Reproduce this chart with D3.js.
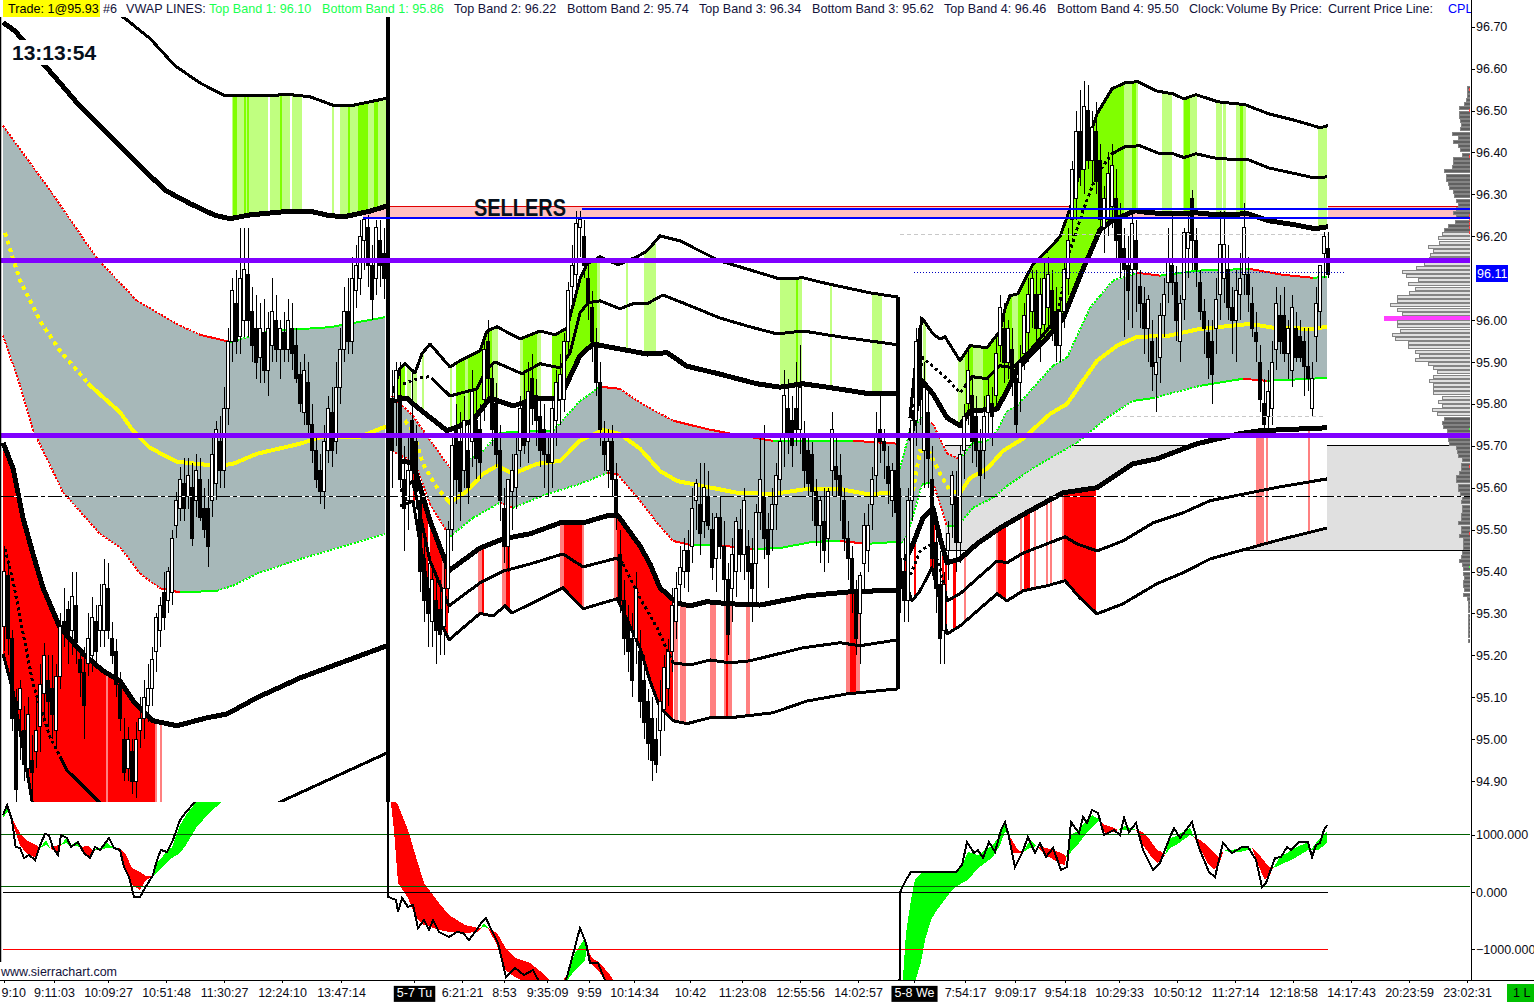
<!DOCTYPE html>
<html>
<head>
<meta charset="utf-8">
<script src="https://cdnjs.cloudflare.com/ajax/libs/d3/7.8.5/d3.min.js"></script>
<style>
html, body { margin: 0; padding: 0; background: #fff; overflow: hidden; }
svg { display: block; font-family: "Liberation Sans", Arial, sans-serif; }
.axis text { font-size: 12.5px; fill: #0a0a14; font-family: "Liberation Sans", Arial, sans-serif; }
.axis path, .axis line { stroke: #000; shape-rendering: crispEdges; }
</style>
</head>
<body>
<div id="chart"></div>
<script>
const width = 1534, height = 1002;

// header study labels
const headerLabels = [
  ["Trade: 1@95.93", 8, "#000"], ["#6", 103, "#12123a"], ["VWAP LINES:", 126, "#12123a"],
  ["Top Band 1: 96.10", 209, "#19ff50"], ["Bottom Band 1: 95.86", 322, "#19ff50"],
  ["Top Band 2: 96.22", 454, "#12123a"], ["Bottom Band 2: 95.74", 567, "#12123a"],
  ["Top Band 3: 96.34", 699, "#12123a"], ["Bottom Band 3: 95.62", 812, "#12123a"],
  ["Top Band 4: 96.46", 944, "#12123a"], ["Bottom Band 4: 95.50", 1057, "#12123a"],
  ["Clock:", 1189, "#12123a"], ["Volume By Price:", 1226, "#12123a"],
  ["Current Price Line:", 1328, "#12123a"], ["CPL:", 1448, "#0000ff"]
];

const priceTicks = [96.70, 96.60, 96.50, 96.40, 96.30, 96.20, 96.00, 95.90, 95.80, 95.70, 95.60, 95.50, 95.40, 95.30, 95.20, 95.10, 95.00, 94.90];
const studyTicks = [1000, 0, -1000];
const timeBars = [1, 13.5, 27, 41.5, 56, 70.5, 85.25, 103.5, 115.5, 126, 136.75, 147.25, 158.5, 172.5, 185.5, 200, 214.5, 228.5, 241.25, 253.75, 266.25, 279.75, 294.25, 308.75, 323.25, 337.75, 352.25, 366.75];
const timeLabels = ["9:10", "9:11:03", "10:09:27", "10:51:48", "11:30:27", "12:24:10", "13:47:14", "5-7 Tu", "6:21:21", "8:53", "9:35:09", "9:59", "10:14:34", "10:42", "11:23:08", "12:55:56", "14:02:57", "5-8 We", "7:54:17", "9:09:17", "9:54:18", "10:29:33", "10:50:12", "11:27:14", "12:18:58", "14:17:43", "20:23:59", "23:02:31"];
const dateLabels = ["5-7 Tu", "5-8 We"];

// candles, open high low close in hundredths
const candles1Start = 1;
const candles1 = [
[9527,9546,9521,9540],[9539,9542,9520,9524],[9524,9526,9502,9505],[9509,9512,9485,9488],[9507,9514,9495,9512],[9502,9508,9490,9494],[9493,9510,9490,9506],[9495,9501,9485,9492],
[9497,9510,9493,9502],[9503,9518,9497,9513],[9511,9523,9505,9520],[9514,9520,9503,9509],[9512,9520,9500,9506],[9502,9518,9498,9515],[9515,9530,9512,9527],[9528,9536,9522,9526],
[9531,9533,9518,9524],[9526,9540,9520,9534],[9532,9540,9518,9523],[9519,9522,9510,9516],[9516,9522,9500,9508],[9518,9530,9515,9524],[9520,9534,9516,9529],[9528,9532,9518,9521],
[9526,9537,9522,9532],[9526,9543,9522,9537],[9536,9542,9524,9526],[9524,9528,9518,9520],[9521,9524,9510,9513],[9513,9516,9502,9505],[9500,9505,9490,9492],[9493,9503,9490,9500],
[9497,9500,9487,9490],[9490,9504,9486,9500],[9502,9510,9498,9505],[9505,9514,9500,9510],[9508,9518,9504,9512],[9512,9522,9508,9519],[9521,9530,9516,9529],[9526,9534,9522,9532],
[9535,9540,9526,9529],[9533,9541,9530,9540],[9535,9550,9532,9548],[9551,9559,9548,9557],[9555,9565,9552,9562],[9561,9567,9552,9555],[9558,9567,9555,9563],[9560,9566,9546,9548],
[9557,9568,9553,9564],[9562,9567,9552,9553],[9555,9560,9548,9550],[9555,9562,9541,9546],[9557,9572,9553,9568],[9561,9576,9557,9574],[9571,9577,9560,9564],[9564,9584,9560,9579],
[9579,9598,9575,9595],[9595,9610,9590,9607],[9604,9612,9592,9595],[9596,9622,9592,9610],[9600,9622,9596,9612],[9611,9622,9596,9600],[9602,9608,9590,9594],[9598,9606,9586,9590],
[9591,9604,9585,9598],[9597,9605,9585,9588],[9588,9602,9582,9598],[9594,9610,9590,9602],[9600,9606,9590,9593],[9593,9600,9586,9598],[9597,9602,9590,9593],[9593,9605,9590,9600],
[9598,9604,9588,9592],[9594,9598,9585,9586],[9587,9590,9578,9580],[9578,9592,9575,9588],[9585,9590,9572,9575],[9575,9580,9566,9569],[9569,9572,9560,9562],[9564,9568,9556,9559],
[9559,9575,9555,9571],[9569,9582,9566,9579],[9578,9584,9565,9569],[9571,9590,9568,9584],[9584,9598,9580,9593],[9593,9608,9590,9602],[9602,9610,9592,9595],[9595,9615,9592,9610],
[9607,9618,9603,9613],[9610,9624,9606,9620],[9619,9624,9612,9624],[9622,9625,9608,9613],[9613,9618,9600,9605],[9610,9624,9606,9622],[9619,9624,9608,9613],[9616,9622,9605,9610]
];
const candles2Start = 98;
const candles2 = [
[9581,9588,9560,9569],[9581,9590,9570,9588],[9582,9590,9560,9562],[9562,9570,9545,9555],[9557,9572,9550,9564],[9576,9588,9560,9564],[9571,9575,9555,9559],[9557,9560,9535,9540],
[9543,9548,9528,9533],[9536,9542,9522,9530],[9528,9542,9522,9538],[9533,9540,9518,9526],[9531,9538,9520,9525],[9527,9542,9520,9536],[9536,9552,9530,9550],[9550,9572,9545,9570],
[9574,9580,9556,9562],[9571,9578,9552,9559],[9564,9582,9560,9576],[9569,9576,9556,9560],[9571,9588,9565,9583],[9576,9584,9562,9567],[9574,9580,9562,9566],[9581,9596,9576,9593],
[9595,9600,9582,9586],[9586,9590,9570,9574],[9580,9585,9565,9568],[9569,9575,9552,9557],[9555,9560,9542,9546],[9546,9562,9540,9562],[9559,9568,9550,9564],[9560,9572,9555,9568],
[9569,9582,9565,9579],[9580,9588,9568,9570],[9571,9590,9566,9583],[9586,9592,9575,9579],[9582,9586,9570,9576],[9577,9582,9565,9569],[9574,9580,9560,9568],[9568,9572,9558,9566],
[9566,9582,9560,9579],[9576,9588,9570,9585],[9581,9592,9575,9587],[9581,9597,9578,9595],[9595,9609,9592,9607],[9608,9618,9604,9613],[9611,9626,9608,9623],[9622,9626,9615,9624],
[9620,9624,9610,9613],[9610,9614,9600,9604],[9603,9607,9590,9595],[9594,9598,9582,9585],[9585,9590,9570,9574],[9571,9576,9564,9568],[9564,9574,9560,9571],[9571,9575,9558,9562],
[9562,9566,9550,9553],[9544,9550,9530,9533],[9533,9538,9520,9524],[9528,9532,9516,9521],[9524,9530,9510,9514],[9524,9540,9518,9536],[9521,9526,9505,9509],[9514,9520,9500,9504],
[9509,9512,9495,9499],[9505,9510,9490,9495],[9500,9505,9492,9494],[9502,9514,9496,9509],[9507,9520,9502,9517],[9512,9524,9508,9521],[9521,9536,9516,9532],[9528,9540,9524,9536],
[9537,9546,9532,9541],[9540,9548,9536,9545],[9545,9550,9535,9540],[9546,9560,9542,9555],[9557,9562,9550,9561],[9556,9566,9544,9549],[9552,9566,9548,9560],[9558,9564,9550,9551],
[9550,9554,9538,9541],[9543,9554,9535,9553],[9553,9558,9543,9546],[9546,9552,9532,9538],[9538,9542,9520,9525],[9536,9548,9528,9544],[9540,9553,9534,9552],[9550,9555,9540,9544],
[9544,9560,9538,9557],[9546,9550,9532,9540],[9542,9548,9528,9536],[9542,9556,9532,9554],[9554,9572,9550,9562],[9558,9575,9543,9548],[9550,9554,9536,9544],[9550,9560,9545,9556],
[9556,9566,9550,9563],[9562,9572,9558,9571],[9572,9588,9565,9582],[9579,9586,9568,9573],[9576,9582,9565,9570],[9579,9590,9570,9574],[9574,9594,9568,9584],[9572,9576,9560,9564],
[9569,9572,9558,9561],[9568,9571,9552,9559],[9559,9562,9546,9551],[9551,9558,9542,9557],[9552,9560,9540,9545],[9548,9560,9542,9559],[9564,9578,9558,9574],[9565,9572,9558,9562],
[9563,9568,9552,9558],[9557,9560,9545,9548],[9548,9552,9538,9543],[9543,9546,9530,9536],[9535,9538,9520,9524],[9530,9540,9518,9539],[9542,9554,9535,9551],[9545,9556,9540,9551],
[9556,9565,9550,9562],[9563,9578,9558,9573],[9574,9582,9566,9571],[9571,9574,9562,9569],[9565,9570,9556,9561],[9557,9566,9553,9564],[9564,9568,9550,9554]
];
const candles3Start = 225;
const candles3 = [
[9543,9560,9530,9536],[9540,9548,9528,9533],[9533,9560,9528,9557],[9557,9578,9552,9576],[9576,9598,9570,9595],[9598,9601,9575,9581],[9569,9590,9560,9584],[9578,9584,9560,9567],
[9562,9570,9540,9543],[9547,9552,9530,9536],[9537,9545,9518,9524],[9526,9540,9518,9537],[9545,9552,9538,9549],[9556,9564,9548,9563],[9558,9564,9540,9547],[9547,9570,9542,9568],
[9569,9580,9562,9577],[9580,9594,9575,9588],[9582,9586,9566,9571],[9577,9582,9565,9569],[9569,9574,9558,9563],[9569,9582,9562,9577],[9578,9586,9572,9582],[9580,9584,9570,9577],
[9582,9596,9578,9592],[9594,9606,9590,9603],[9598,9604,9585,9590],[9590,9600,9586,9598],[9593,9598,9582,9585],[9586,9590,9572,9575],[9585,9594,9578,9590],[9592,9604,9588,9601],
[9597,9610,9590,9606],[9602,9612,9598,9610],[9606,9612,9595,9598],[9598,9610,9590,9606],[9599,9614,9595,9610],[9603,9615,9598,9611],[9607,9612,9595,9598],[9602,9608,9590,9594],
[9594,9605,9590,9602],[9602,9614,9598,9612],[9610,9622,9606,9619],[9624,9638,9620,9636],[9629,9650,9624,9645],[9645,9655,9632,9636],[9636,9657,9630,9651],[9650,9656,9636,9638],
[9638,9650,9632,9646],[9645,9652,9630,9633],[9638,9642,9622,9624],[9622,9632,9616,9629],[9624,9640,9620,9635],[9627,9642,9622,9637],[9629,9636,9614,9619],[9624,9628,9610,9614],
[9617,9622,9596,9612],[9613,9620,9600,9607],[9612,9625,9598,9623],[9619,9624,9602,9612],[9608,9612,9598,9604],[9604,9608,9592,9598],[9598,9606,9590,9605],[9595,9600,9583,9589],
[9587,9596,9578,9590],[9591,9604,9585,9601],[9601,9610,9596,9606],[9609,9622,9604,9614],[9613,9625,9606,9609],[9609,9613,9595,9600],[9595,9606,9590,9604],[9605,9622,9600,9621],
[9617,9625,9610,9621],[9629,9631,9612,9619],[9619,9622,9608,9612],[9609,9612,9600,9602],[9602,9605,9592,9598],[9597,9600,9586,9591],[9595,9600,9580,9587],[9598,9610,9592,9605],
[9606,9626,9600,9618],[9610,9626,9604,9618],[9612,9618,9600,9603],[9603,9608,9592,9600],[9600,9612,9590,9607],[9606,9616,9600,9610],[9611,9628,9606,9622],[9611,9615,9602,9606],
[9604,9608,9596,9598],[9597,9602,9590,9595],[9590,9594,9578,9581],[9580,9586,9574,9575],[9577,9588,9573,9583],[9579,9595,9575,9590],[9593,9608,9588,9604],[9601,9606,9592,9595],
[9601,9608,9590,9592],[9592,9600,9586,9598],[9588,9606,9584,9603],[9598,9602,9590,9591],[9596,9600,9590,9591],[9595,9598,9582,9589],[9589,9598,9583,9586],[9579,9590,9577,9586],
[9596,9608,9590,9604],[9602,9612,9598,9613],[9616,9621,9610,9620],[9617,9621,9610,9611]
];

// VWAP band lines, [bar, price]
const topBand1 = [[.75,96.90],[31.25,96.72],[37.5,96.672],[43.75,96.607],[50,96.566],[56.25,96.535],[62.5,96.535],[72.5,96.538],[77.5,96.533],[83.75,96.511],[87.5,96.511],[97,96.53]];
const upThick1 = [[.75,96.71],[3.75,96.69],[11.25,96.607],[15,96.566],[20,96.51],[27.5,96.44],[35,96.368],[41.25,96.31],[47.5,96.278],[53.75,96.25],[57.5,96.242],[62.5,96.251],[72.5,96.26],[77.5,96.26],[82.5,96.249],[86.25,96.247],[92.5,96.26],[97,96.273]];
const upper1 = [[.75,96.464],[12.5,96.31],[24.25,96.147],[34.25,96.046],[45,95.987],[50,95.965],[57.5,95.948],[67.5,95.974],[82.5,95.983],[96.25,96.007]];
const lower1 = [[.75,95.963],[5,95.845],[8.25,95.738],[15.75,95.589],[25,95.49],[30,95.458],[35,95.395],[40,95.36],[45,95.35],[54.25,95.354],[58.25,95.366],[64.25,95.395],[75,95.43],[96.25,95.49]];
const vwap1 = [[1.25,96.208],[5,96.094],[10,95.998],[15,95.927],[22.5,95.844],[30,95.78],[33.25,95.736],[37.5,95.695],[44.25,95.662],[54.25,95.652],[58.25,95.657],[64.25,95.681],[75,95.705],[80,95.72],[90,95.722],[96.5,95.746]];
const downThick1 = [[.75,95.707],[3.25,95.647],[5.75,95.528],[8.25,95.442],[10.75,95.361],[15,95.266],[20.75,95.204],[25.75,95.163],[30,95.139],[33.25,95.092],[38.25,95.044],[44.25,95.032],[51.75,95.051],[56.75,95.06],[64.25,95.099],[75,95.146],[96.75,95.223]];
const downMid1 = [[1.25,95.454],[3.25,95.378],[5.5,95.266],[8.25,95.132],[12.5,95.005],[16.75,94.926],[24.25,94.855],[38.75,94.72],[44.25,94.71],[56.75,94.74],[70,94.85],[96.75,94.967]];
const downLow1 = [[.75,95.204],[3.25,95.115],[5,95.02],[8,94.853],[12.5,94.66],[38.75,94.40],[96.75,94.71]];

const topBand2 = [[98.25,95.826],[100,95.884],[101.25,95.896],[103.75,95.874],[105.5,95.92],[107.5,95.943],[112.5,95.888],[115,95.903],[120,95.927],[121.75,95.974],[124.25,95.984],[130,95.955],[135,95.974],[138.75,95.965],[141.75,95.981],[145,96.098],[146.75,96.134],[150,96.151],[154.5,96.132],[159.25,96.151],[161.75,96.165],[165,96.201],[170,96.189],[180,96.141],[186.75,96.122],[195,96.098],[200.75,96.101],[206.75,96.087],[217.5,96.065],[224.5,96.055]];
const upMid2 = [[100.75,95.848],[105,95.862],[107.5,95.865],[112.5,95.819],[119.25,95.836],[121.75,95.884],[123.75,95.90],[130.5,95.872],[135,95.896],[140,95.886],[142.5,95.922],[145,96.017],[147,96.041],[150,96.046],[155,96.027],[158.25,96.039],[161.75,96.039],[165.75,96.06],[170.75,96.041],[180,96.005],[186.75,95.986],[194.25,95.967],[200.75,95.974],[210,95.96],[224.5,95.941]];
const upThick2 = [[97.5,95.807],[101.75,95.814],[103.25,95.80],[111.75,95.736],[118.25,95.76],[122.5,95.814],[128.25,95.795],[134.25,95.814],[140,95.814],[145,95.915],[148.25,95.943],[155,95.931],[161.75,95.919],[166.75,95.922],[171.75,95.89],[180,95.871],[189.25,95.848],[195,95.84],[200.75,95.848],[206.75,95.84],[217.5,95.824],[224.5,95.824]];
const upper2 = [[98,95.819],[103.25,95.771],[112.5,95.647],[120,95.681],[125,95.731],[135,95.736],[138.25,95.736],[145,95.807],[150,95.841],[155,95.836],[160,95.803],[168.25,95.76],[176.75,95.74],[184.25,95.726],[193.25,95.712],[213.25,95.712],[224.5,95.705]];
const lower2 = [[98,95.688],[103.75,95.659],[107.5,95.561],[112.5,95.483],[118.25,95.528],[125,95.564],[128.25,95.552],[136.75,95.585],[145,95.609],[151.75,95.635],[154.25,95.633],[160,95.569],[164.25,95.516],[168.25,95.473],[172.5,95.464],[178.25,95.464],[188.25,95.454],[195,95.456],[203.25,95.471],[210,95.473],[216.75,95.466],[224.5,95.471]];
const vwap2 = [[101.25,95.76],[103.25,95.736],[105.75,95.657],[109.25,95.60],[112.5,95.564],[116.75,95.592],[120.75,95.633],[124.25,95.652],[128.25,95.633],[134.25,95.657],[140,95.664],[145,95.712],[150.75,95.738],[155,95.728],[160,95.693],[165,95.64],[169.25,95.616],[176.75,95.602],[184.25,95.588],[193.25,95.585],[201.75,95.597],[210,95.597],[216.75,95.585],[224.5,95.588]];
const downThick2 = [[100,95.664],[103.25,95.659],[107.5,95.521],[112.25,95.402],[120,95.456],[125.75,95.478],[132.5,95.49],[140,95.516],[145.75,95.516],[151.75,95.533],[154.5,95.533],[160,95.461],[162.5,95.418],[165,95.361],[169.25,95.325],[172.5,95.318],[176.75,95.328],[182.5,95.323],[190,95.32],[201.75,95.342],[211.75,95.351],[224.5,95.356]];
const downMid2 = [[100,95.592],[103.25,95.616],[107.5,95.425],[112.25,95.318],[120,95.373],[125.75,95.401],[132.5,95.418],[140.75,95.442],[145.75,95.411],[154.25,95.432],[155.75,95.418],[160,95.337],[164.25,95.266],[168.25,95.182],[172.5,95.177],[177.5,95.189],[182.5,95.182],[187.5,95.187],[200.75,95.218],[210,95.23],[215,95.223],[224.5,95.237]];
const downLow2 = [[100,95.556],[103.25,95.568],[107.5,95.33],[112.25,95.237],[120,95.30],[123.25,95.294],[126.25,95.318],[128,95.301],[140.75,95.361],[145.75,95.311],[154.25,95.335],[155.75,95.306],[160,95.218],[162.5,95.139],[165,95.075],[168.25,95.044],[171.75,95.037],[177.5,95.051],[182.5,95.051],[193.25,95.063],[201.75,95.091],[211.75,95.108],[224.5,95.12]];

const topBand3 = [[227.5,95.767],[228.75,95.886],[230.5,96.005],[233.25,95.967],[235,95.955],[236.25,95.96],[240,95.903],[242.5,95.939],[246.75,95.934],[250,95.974],[251.25,96.027],[252.5,96.058],[254.5,96.063],[258.25,96.134],[261.75,96.165],[265,96.199],[267.5,96.266],[271.25,96.404],[274.25,96.492],[278,96.552],[281.25,96.566],[284.5,96.569],[289,96.547],[293.25,96.54],[296,96.528],[299,96.538],[304.5,96.521],[311.25,96.514],[317.25,96.492],[324,96.476],[330,96.459],[332,96.464]];
const upMid3 = [[227.5,95.736],[230.75,95.91],[236.75,95.86],[240,95.826],[243,95.865],[246.75,95.86],[250,95.891],[253.25,95.886],[257.5,95.927],[264.25,96.005],[267.5,96.165],[270.75,96.261],[274.25,96.349],[278,96.397],[281.25,96.414],[285,96.416],[290,96.397],[293.25,96.397],[296,96.388],[299,96.397],[304.5,96.385],[312,96.383],[317.25,96.363],[324,96.349],[328.75,96.339],[331.75,96.342]];
const upThick3 = [[227.5,95.712],[230.5,95.855],[233.25,95.824],[236.75,95.767],[240,95.748],[242.5,95.783],[249.25,95.788],[251.75,95.831],[254.5,95.886],[261.75,95.958],[265.75,96.003],[270,96.105],[275,96.215],[278,96.237],[283.75,96.261],[287.5,96.256],[293.25,96.254],[299,96.256],[304.5,96.251],[312,96.254],[317.25,96.237],[324,96.227],[328.75,96.218],[332,96.223]];
const upper3 = [[225,95.646],[227.5,95.736],[230.5,95.767],[233.25,95.752],[236.75,95.681],[240,95.669],[243.25,95.707],[246.75,95.712],[249.25,95.736],[251.75,95.783],[254.25,95.795],[258.25,95.838],[263.25,95.891],[266.75,95.91],[272.5,96.029],[275,96.058],[278.25,96.094],[284.25,96.113],[290,96.106],[299.25,96.118],[312.5,96.122],[320.75,96.108],[328.25,96.101],[331.75,96.103]];
const lower3 = [[225,95.461],[227,95.49],[230.5,95.609],[233.25,95.612],[236.75,95.509],[239.5,95.509],[243.25,95.552],[248.25,95.576],[251.75,95.604],[258.25,95.647],[269.25,95.707],[276.75,95.767],[283.25,95.807],[288.25,95.814],[300,95.843],[310.75,95.86],[316.75,95.855],[331.75,95.862]];
const vwap3 = [[228.25,95.592],[230,95.688],[232.5,95.683],[235,95.633],[237.5,95.592],[240,95.588],[242.5,95.623],[246.75,95.645],[250.75,95.688],[255.75,95.717],[262.5,95.776],[266.75,95.80],[274.25,95.903],[279.25,95.939],[284.25,95.96],[291.75,95.962],[300,95.979],[312.5,95.991],[318.25,95.982],[328.25,95.979],[331.75,95.984]];
const downThick3 = [[226.25,95.425],[228.25,95.466],[230.75,95.528],[233.25,95.552],[235,95.48],[236.75,95.421],[240,95.43],[244.25,95.466],[250,95.504],[257.5,95.545],[265.75,95.588],[274.25,95.60],[283.25,95.657],[289.25,95.669],[299.25,95.705],[310,95.729],[315,95.736],[331.75,95.743]];
const downMid3 = [[226.25,95.366],[227.5,95.39],[230,95.449],[233,95.466],[235,95.409],[236.75,95.33],[240,95.347],[249.25,95.425],[251.75,95.421],[255.75,95.444],[261.75,95.466],[266.25,95.483],[269.25,95.466],[274.25,95.449],[280.75,95.473],[288.25,95.516],[295.75,95.54],[302.5,95.569],[320,95.602],[331.75,95.621]];
const downLow3 = [[226.25,95.378],[228,95.33],[230,95.354],[233,95.409],[235,95.33],[236.75,95.251],[240,95.27],[249.25,95.347],[251.75,95.33],[255.75,95.354],[261.75,95.366],[266.25,95.378],[270,95.337],[274.25,95.299],[280.75,95.323],[289.25,95.371],[295.75,95.397],[302.5,95.43],[320,95.476],[331.75,95.504]];

// highlighted stretches between the outer bands, [first bar, last bar]
const greenLight1 = [[58,67],[67.5,72.5],[73,75.5],[83,83.5],[85,96.75]];
const greenBright1 = [[58.25,59.25],[61,61.5],[61.75,62.25],[70,70.5],[87,87.5],[89.5,92],[93.5,94.5]];
const greenLight2 = [[101.75,102.75],[103.25,104.25],[105.5,106],[112.5,113],[116.25,117],[123,124.5],[130,130.75],[134.25,135.25],[149.25,150],[156.5,157],[161,164],[195,200.5],[207.5,208],[218,220.5]];
const greenBright2 = [[99.5,101.25],[114,116.25],[117,123],[130.75,134.25],[138,149.25],[199,199.5]];
const greenLight3 = [[230.75,231.5],[239.5,241.25],[243.25,245.75],[253,254.5],[281,283],[284,284.5],[290.5,293],[295.75,299.25],[304,305.5],[305.75,306.5],[309,311.5],[329.5,331.75]];
const greenBright3 = [[241.25,243.25],[245.75,253],[254.5,281],[283,284],[296,297.5],[310,310.75]];
const redLight1 = [[26.5,27],[38.75,39.25],[40,40.5]];
const redDark1 = [[.75,26.5],[27,38.75]];
const redLight2 = [[110.5,111],[119.5,120.5],[125.5,126.5],[140,141],[145.5,146],[153.5,154.25],[168.5,169.5],[170,171.5],[177.5,179],[181,183],[186.5,187.5],[211.5,215]];
const redDark2 = [[103.25,103.75],[105.5,107],[107.5,110.5],[111,112],[120.5,121],[126.5,127.5],[141,145.5],[154.25,168.25],[181.5,182],[212.5,214]];
const redLight3 = [[241,241.5],[249,249.5],[255,255.5],[258.5,259],[261.5,262],[262.5,263],[265.5,266],[314,316],[316.5,317],[327,327.5]];
const redDark3 = [[226.25,227.5],[228.5,229],[232.5,233.75],[235.5,236],[236.25,236.75],[238.25,239],[249.5,251.5],[256,257.5],[266,274]];

// lower study, [bar, value] and ribbon [bar, fast, slow]
const studyLine = [[.75,1347],[1.75,1522],[3,1260],[3.9,787],[5,770],[6,595],[7.25,647],[8.75,560],[10.25,857],[11.25,1015],[12.25,997],[13.25,770],[14.5,647],[15.25,997],[16.75,945],[17.75,787],[19.5,875],[21,682],[22.5,595],[23.75,787],[25,735],[27.25,945],[28.5,770],[30,735],[31,437],[32.25,262],[33.5,-87],[35,-87],[36.25,70],[38.25,297],[39.25,560],[40.25,735],[41.75,700],[43.25,910],[45,1260],[46.5,1400],[48.5,1557],[50,1700],[60,2310],[95,3360],[97,3360],[97.1,-87],
[99,-140],[99.5,-350],[100.5,-105],[102,-262],[103.25,-227],[104.5,-630],[106,-490],[107.25,-665],[108.25,-490],[109.75,-700],[112.25,-787],[114.25,-700],[115.75,-717],[117.25,-840],[118.75,-700],[120.5,-525],[121.5,-455],[122.5,-612],[124.5,-892],[126.5,-1487],[128.75,-1330],[131,-1452],[133.25,-1365],[134.25,-1505],[136.25,-1715],[139.5,-1802],[141.75,-1487],[145,-630],[146.5,-892],[147.5,-1242],[149.5,-1242],[151,-1505],[155,-2065],[222.5,-2065],[225,-1505],[225.05,0],
[226.5,210],[227.75,350],[239,350],[240.5,472],[241.75,875],[243.5,682],[244.5,735],[245.75,595],[247.25,875],[248.75,700],[250.25,1085],[251.25,1225],[252.25,962],[253.75,437],[255.5,682],[257,962],[258.75,682],[260,857],[261.5,612],[263.25,770],[265.25,385],[266.75,437],[267.75,1225],[269.75,1032],[270.75,1312],[271.75,1207],[273,1435],[274.5,1382],[276,997],[278.5,1085],[280,997],[281,1295],[282.25,1050],[284,1207],[285.75,735],[288.25,385],[290,507],[292.5,962],[293.5,1120],[295,945],[298,1225],[299.75,770],[302.25,350],[303.75,262],[305.75,857],[308,682],[310.5,787],[312,787],[314,560],[315.5,87],[316.5,157],[318.75,595],[320.25,612],[321.75,787],[322.75,735],[324.75,875],[327,875],[328,612],[329,822],[330,857],[331,1085],[331.75,1172]];
const ribbon1 = [[.75,1365,1295],[1.75,1470,1400],[2.25,1380,1380],[5,822,1032],[6.5,682,910],[9,595,822],[10,770,770],[11.5,910,822],[12.5,770,770],[14.5,682,822],[15.25,822,822],[16.5,945,857],[17.5,805,805],[19,875,805],[20,787,787],[22,595,805],[23.25,735,735],[25,770,735],[26.75,857,770],[28.5,770,770],[30,752,770],[31.5,385,647],[33,122,420],[35,35,350],[36.5,210,280],[38.25,280,280],[39.25,525,350],[40.75,630,455],[43,787,595],[45,1172,682],[46.5,1347,822],[49,1575,1120],[52.5,1960,1400],[55.5,2135,1575],[65,2300,2000]];
const ribbon2 = [[97.75,1557,1960],[98.5,1085,1610],[99.5,157,1522],[102,-105,1085],[104,-455,612],[106,-577,157],[109.75,-665,-192],[112.25,-700,-402],[116.25,-717,-577],[119.5,-700,-630],[120.25,-630,-630],[121,-542,-612],[122,-630,-630],[124.25,-927,-717],[126.25,-1365,-962],[128.75,-1487,-1155],[132.5,-1627,-1242],[136.25,-1715,-1452],[138,-1800,-1600],[141.75,-1450,-1550],[143.75,-1067,-1365],[146.25,-805,-1190],[146.75,-980,-980],[148,-1277,-1155],[150,-1417,-1242],[152.5,-1627,-1452],[155,-1900,-1700]];
const ribbon3 = [[225.75,-1505,-1802],[226.5,-717,-1715],[227.75,-140,-1627],[228.75,210,-1575],[230.25,332,-1225],[231.25,332,-840],[232.75,332,-490],[234.25,332,-315],[238,332,35],[239,350,87],[240.5,472,157],[242,700,210],[244.5,647,420],[246.25,735,507],[248.25,822,612],[250,997,822],[251.25,1225,1050],[251.75,1032,1032],[253,682,910],[254.5,682,735],[255.75,700,700],[257.5,910,770],[259,805,805],[261.5,647,770],[264.75,507,700],[266.25,472,647],[266.5,612,612],[267.75,997,700],[269.75,1085,857],[271.25,1225,997],[273,1347,1137],[275,1260,1260],[276.25,1032,1172],[278,1050,1137],[279.5,1085,1085],[281.25,1155,1085],[284,1085,1085],[285.75,822,1050],[287.5,647,910],[289.25,507,735],[290.5,595,700],[291.25,647,647],[292.5,945,770],[294,980,822],[297.5,1120,997],[298.5,962,962],[300,770,910],[301.75,525,822],[303.5,385,682],[304.75,472,612],[306,735,735],[308,735,682],[311.25,787,717],[313,770,770],[314.5,472,682],[316.25,210,525],[317.5,297,437],[318.25,420,420],[320,612,472],[323.75,770,595],[327,875,735],[327.75,735,735],[329.5,910,735],[331.75,1050,857]];

// volume by price, one row per cent from the top level down
const profileTop = 96.555;
const profileVolumes = [3,3,3,4,6,11,11,11,10,9,10,18,12,17,12,10,8,17,17,18,26,24,24,22,21,17,16,14,12,14,17,14,15,22,26,28,32,31,42,37,40,41,46,54,68,64,52,62,55,61,73,73,80,73,68,86,73,73,70,78,75,62,62,55,51,55,42,37,33,37,41,37,37,37,28,32,28,38,33,26,28,27,23,23,22,21,14,13,12,8,9,9,11,14,14,12,12,10,8,9,8,8,9,9,12,9,9,11,7,7,7,8,9,11,8,7,7,6,7,7,6,7,3,2,2,2,2,2,2,2,2,2,2];
const profileRedMarks = [96.55, 96.50, 96.39, 96.25, 96.24, 96.23, 96.22, 96.21, 95.65, 95.49];
const profileGreenMarks = [95.74, 95.41];

const svg = d3.select("#chart").append("svg").attr("width", width).attr("height", height);

const x = d3.scaleLinear().domain([0, 368]).range([0, 1472]);
const y = d3.scaleLinear().domain([94.85, 96.74]).range([802, 10]);
const yStudy = d3.scaleLinear().domain([-1540, 1575]).range([980, 802]);
const xVolume = d3.scaleLinear().domain([0, 86]).range([x(367.5), x(367.5) - 86]);

const defs = svg.append("defs");
defs.append("clipPath").attr("id", "mainClip").append("rect").attr("x", 0).attr("y", 17).attr("width", 1470).attr("height", 785);
defs.append("clipPath").attr("id", "studyClip").append("rect").attr("x", 0).attr("y", 802).attr("width", 1470).attr("height", 178);

const main = svg.append("g").attr("clip-path", "url(#mainClip)").style("shape-rendering", "crispEdges");
const study = svg.append("g").attr("clip-path", "url(#studyClip)").style("shape-rendering", "crispEdges");

function interp(curve) {
  return d3.scaleLinear().domain(curve.map(d => d[0])).range(curve.map(d => d[1])).clamp(true);
}

// area between two curves from bar a to bar b
function between(upper, lower, a, b) {
  const fu = interp(upper), fl = interp(lower);
  const knots = upper.concat(lower).map(d => d[0]).filter(d => d > a && d < b);
  const bars = Array.from(new Set([a, b].concat(knots))).sort(d3.ascending);
  return d3.area().x(d => x(d)).y0(d => y(fu(d))).y1(d => y(fl(d)))(bars);
}

function fillBetween(upper, lower, a, b, color) {
  main.append("path").attr("d", between(upper, lower, a, b)).attr("fill", color);
}

function stripes(ranges, upper, lower, color) {
  ranges.forEach(r => fillBetween(upper, lower, r[0], r[1], color));
}

const line = d3.line().x(d => x(d[0])).y(d => y(d[1]));

// band line, with dotted stretches where the study draws it so
function drawBand(curve, color, w, dotted = []) {
  const f = interp(curve);
  const first = curve[0][0], last = curve[curve.length - 1][0];
  const cuts = Array.from(new Set([first, last].concat(dotted.flat()).filter(d => d >= first && d <= last))).sort(d3.ascending);
  d3.pairs(cuts).forEach(([a, b]) => {
    const knots = curve.map(d => d[0]).filter(d => d > a && d < b);
    const isDotted = dotted.some(r => (a + b) / 2 > r[0] && (a + b) / 2 < r[1]);
    main.append("path")
      .attr("d", line([a].concat(knots, b).map(d => [d, f(d)])))
      .attr("fill", "none").attr("stroke", color).attr("stroke-width", w)
      .attr("stroke-linejoin", "round")
      .attr("stroke-dasharray", isDotted ? `${w} ${w}` : null);
  });
}

// band 1 lines are red while falling, green while rising, broken up where steep
function drawSlopeBand(curve) {
  d3.pairs(curve).forEach(([a, b]) => {
    const steep = Math.abs(y(b[1]) - y(a[1])) / (x(b[0]) - x(a[0])) > 0.25;
    main.append("path").attr("d", line([a, b])).attr("fill", "none")
      .attr("stroke", b[1] >= a[1] ? "#00ff00" : "#ff0000").attr("stroke-width", 2)
      .attr("stroke-dasharray", steep ? "2 1.5" : null);
  });
}

// horizontal zone behind the bands
main.append("rect").attr("x", x(90.75)).attr("width", x(367.5) - x(90.75))
  .attr("y", y(96.272)).attr("height", y(96.244) - y(96.272)).attr("fill", "#ffc0c0");
main.append("rect").attr("x", x(236.25)).attr("width", x(367.5) - x(236.25))
  .attr("y", y(95.70)).attr("height", y(95.45) - y(95.70)).attr("fill", "#e0e0e0");
[95.70, 95.45].forEach(p => {
  main.append("line").attr("x1", x(236.25)).attr("x2", x(367.5)).attr("y1", y(p)).attr("y2", y(p)).attr("stroke", "#000");
});
main.append("line").attr("x1", x(97)).attr("x2", x(367.5)).attr("y1", y(96.272)).attr("y2", y(96.272)).attr("stroke", "#e00000");

const sessionRows = [
  [topBand1, upThick1, upper1, lower1, vwap1, downThick1, downMid1, downLow1, greenLight1, greenBright1, redLight1, redDark1],
  [topBand2, upThick2, upper2, lower2, vwap2, downThick2, downMid2, downLow2, greenLight2, greenBright2, redLight2, redDark2],
  [topBand3, upThick3, upper3, lower3, vwap3, downThick3, downMid3, downLow3, greenLight3, greenBright3, redLight3, redDark3]
];

sessionRows.forEach(r => {
  const [top, upThick, upper, lower, vwap, downThick, , low, gLight, gBright, rLight, rDark] = r;
  fillBetween(top, upThick, Math.max(top[0][0], upThick[0][0]), Math.min(top[top.length - 1][0], upThick[upThick.length - 1][0]), "#fff");
  fillBetween(downThick, low, Math.max(downThick[0][0], low[0][0]), Math.min(downThick[downThick.length - 1][0], low[low.length - 1][0]), "#fff");
  fillBetween(upper, lower, upper[0][0], upper[upper.length - 1][0], "#a7b8b9");
  stripes(gLight, top, upThick, "#c0ff80");
  stripes(gBright, top, upThick, "#80ff00");
  stripes(rLight, downThick, low, "#ff8080");
  stripes(rDark, downThick, low, "#ff0000");
});

// line drawing
[upper1, lower1, upper2, lower2, upper3, lower3].forEach(drawSlopeBand);
drawBand(vwap1, "#ffff00", 4, [[0, 22]]);
drawBand(vwap2, "#ffff00", 4, [[100, 112]]);
drawBand(vwap3, "#ffff00", 4, [[228, 240]]);

drawBand(topBand1, "#000", 3);
drawBand(upThick1, "#000", 5);
drawBand(downThick1, "#000", 5);
drawBand(downMid1, "#000", 3, [[0, 15]]);
drawBand(downLow1, "#000", 3);
drawBand(topBand2, "#000", 3);
drawBand(upMid2, "#000", 3, [[100, 108]]);
drawBand(upThick2, "#000", 5);
drawBand(downThick2, "#000", 5);
drawBand(downMid2, "#000", 3, [[155.75, 168]]);
drawBand(downLow2, "#000", 3);
drawBand(topBand3, "#000", 3);
drawBand(upMid3, "#000", 3, [[227, 241], [264.25, 278]]);
drawBand(upThick3, "#000", 5);
drawBand(downThick3, "#000", 5);
drawBand(downMid3, "#000", 3, [[226, 236]]);
drawBand(downLow3, "#000", 3);

// session joins
[[97, 94.85, 96.74], [224.5, 95.12, 96.055]].forEach(s => {
  main.append("line").attr("x1", x(s[0])).attr("x2", x(s[0])).attr("y1", y(s[1])).attr("y2", y(s[2]))
    .attr("stroke", "#000").attr("stroke-width", 4);
});

function drawCandles(rows, start) {
  const g = main.append("g");
  rows.forEach((c, i) => {
    const bar = start + i;
    const [o, h, l, cl] = c.map(d => d / 100);
    g.append("line").attr("x1", x(bar)).attr("x2", x(bar)).attr("y1", y(h)).attr("y2", y(l)).attr("stroke", "#000");
    g.append("rect").attr("x", x(bar) - 1.5).attr("width", 3)
      .attr("y", y(Math.max(o, cl))).attr("height", Math.max(1, Math.abs(y(o) - y(cl))))
      .attr("fill", cl >= o ? "#fff" : "#000").attr("stroke", "#000");
  });
}
drawCandles(candles1, candles1Start);
drawCandles(candles2, candles2Start);
drawCandles(candles3, candles3Start);

// volume by price
const profile = main.append("g");
profileVolumes.forEach((v, i) => {
  const p = profileTop - i * 0.01;
  const isPoc = v === d3.max(profileVolumes);
  const inValue = p < 96.21 && p > 95.765;
  profile.append("rect")
    .attr("x", xVolume(v)).attr("width", xVolume(0) - xVolume(v))
    .attr("y", y(p) - (isPoc ? 2.5 : 1.5)).attr("height", isPoc ? 5 : 3)
    .attr("fill", isPoc ? "#ff40ff" : inValue ? "#e0e0e0" : "#606060")
    .attr("stroke", isPoc ? "none" : "#848484");
});
profileRedMarks.forEach(p => profile.append("rect").attr("x", xVolume(1.5)).attr("width", 2).attr("y", y(p) - 1.5).attr("height", 3).attr("fill", "#ff4040"));
profileGreenMarks.forEach(p => profile.append("rect").attr("x", xVolume(1.5)).attr("width", 2).attr("y", y(p) - 1).attr("height", 2).attr("fill", "#40ff40"));

// price level lines
main.append("line").attr("x1", 0).attr("x2", x(367.5)).attr("y1", y(95.58)).attr("y2", y(95.58)).attr("stroke", "#fff");
main.append("line").attr("x1", 0).attr("x2", x(367.5)).attr("y1", y(95.58)).attr("y2", y(95.58)).attr("stroke", "#000").attr("stroke-dasharray", "14 3 4 3");
main.append("line").attr("x1", x(225)).attr("x2", x(332)).attr("y1", y(96.205)).attr("y2", y(96.205)).attr("stroke", "#c8c8c8").attr("stroke-dasharray", "4 3");
main.append("line").attr("x1", x(279)).attr("x2", x(331.5)).attr("y1", y(95.77)).attr("y2", y(95.77)).attr("stroke", "#c8c8c8").attr("stroke-dasharray", "4 3");
main.append("line").attr("x1", x(228.5)).attr("x2", x(336.25)).attr("y1", y(96.113)).attr("y2", y(96.113)).attr("stroke", "#0000c0").attr("stroke-dasharray", "1 2");
[96.244].forEach(p => main.append("line").attr("x1", x(90.75)).attr("x2", x(367.5)).attr("y1", y(p)).attr("y2", y(p)).attr("stroke", "#0000ff").attr("stroke-width", 2));
[96.265].forEach(p => main.append("line").attr("x1", x(145.5)).attr("x2", x(367.5)).attr("y1", y(p)).attr("y2", y(p)).attr("stroke", "#0000ff").attr("stroke-width", 2));
[96.143, 95.724].forEach(p => main.append("line").attr("x1", 0).attr("x2", x(367.5)).attr("y1", y(p)).attr("y2", y(p)).attr("stroke", "#8000ff").attr("stroke-width", 5));

// lower study
[ribbon1, ribbon2, ribbon3].forEach(rows => {
  d3.pairs(rows).forEach(([a, b]) => {
    const area = d3.area().x(d => x(d[0])).y0(d => yStudy(d[1])).y1(d => yStudy(d[2]));
    study.append("path").attr("d", area([a, b]))
      .attr("fill", a[1] + b[1] >= a[2] + b[2] ? "#00ff00" : "#ff0000");
  });
});
[[1000, "#006000", 0, 367.5], [105, "#006000", 0, 367.5], [0, "#000", .75, 332], [-1000, "#ff0000", .75, 332]].forEach(l => {
  study.append("line").attr("x1", x(l[2])).attr("x2", x(l[3])).attr("y1", yStudy(l[0])).attr("y2", yStudy(l[0])).attr("stroke", l[1]);
});
study.append("path").attr("d", d3.line().x(d => x(d[0])).y(d => yStudy(d[1]))(studyLine))
  .attr("fill", "none").attr("stroke", "#000").attr("stroke-width", 2);

// axes
const axisPrice = svg.append("g").attr("class", "axis").attr("transform", `translate(${x(367.75)},0)`)
  .call(d3.axisRight(y).tickValues(priceTicks).tickFormat(d3.format(".2f")).tickSize(4).tickPadding(1));
axisPrice.select(".domain").remove();
const axisStudy = svg.append("g").attr("class", "axis").attr("transform", `translate(${x(367.75)},0)`)
  .call(d3.axisRight(yStudy).tickValues(studyTicks).tickFormat(d3.format(".3f")).tickSize(4).tickPadding(1));
axisStudy.select(".domain").remove();
svg.append("line").attr("x1", x(367.75)).attr("x2", x(367.75)).attr("y1", 0).attr("y2", 980).attr("stroke", "#000").style("shape-rendering", "crispEdges");
svg.append("line").attr("x1", 0.5).attr("x2", 0.5).attr("y1", 0).attr("y2", 962).attr("stroke", "#000").attr("stroke-width", 1.5);

const axisTime = svg.append("g").attr("class", "axis").attr("transform", "translate(0,980)")
  .call(d3.axisBottom(x).tickValues(timeBars).tickFormat((d, i) => timeLabels[i]).tickSize(3).tickPadding(5));
axisTime.select(".domain").remove();
axisTime.selectAll(".tick text").filter((d, i) => i === 0).attr("text-anchor", "start").attr("x", -3);
svg.append("line").attr("x1", 0).attr("x2", width).attr("y1", 980).attr("y2", 980).attr("stroke", "#000").style("shape-rendering", "crispEdges");
axisTime.selectAll(".tick").filter((d, i) => dateLabels.includes(timeLabels[i])).each(function () {
  const t = d3.select(this);
  const box = t.select("text").node().getBBox();
  t.insert("rect", "text").attr("x", box.x - 3).attr("y", box.y).attr("width", box.width + 6).attr("height", box.height + 2).attr("fill", "#000");
  t.select("text").style("fill", "#fff");
});

// current price marker
svg.append("rect").attr("x", x(369)).attr("y", y(96.11) - 9).attr("width", 32).attr("height", 17).attr("fill", "#0000ff");
svg.append("text").attr("x", x(369) + 1).attr("y", y(96.11) + 4).attr("fill", "#fff").attr("font-size", 12.5).text("96.11");

// header
svg.append("rect").attr("x", 0).attr("y", 0).attr("width", x(367.75)).attr("height", 17).attr("fill", "#fff");
svg.append("rect").attr("x", 3).attr("y", 0).attr("width", 97).attr("height", 17).attr("fill", "#ffff00");
const header = svg.append("g").attr("font-size", 12.6);
headerLabels.forEach(h => {
  header.append("text").attr("x", h[1]).attr("y", 13).attr("fill", h[2]).text(h[0]);
});
svg.append("line").attr("x1", x(367.75)).attr("x2", x(367.75)).attr("y1", 0).attr("y2", 17).attr("stroke", "#000").style("shape-rendering", "crispEdges");
svg.append("rect").attr("x", x(367.75) + 1).attr("y", 0).attr("width", 62).attr("height", 17).attr("fill", "#fff");

// clock, note and branding
svg.append("rect").attr("x", 10).attr("y", 40).attr("width", 91).attr("height", 25).attr("fill", "#fff");
svg.append("text").attr("x", 12).attr("y", 60).attr("font-size", 21).attr("font-weight", "bold").attr("fill", "#06101c").text("13:13:54");
svg.append("text").attr("x", 474).attr("y", 216).attr("font-size", 23).attr("font-weight", "bold").attr("fill", "#06101c")
  .attr("textLength", 92).attr("lengthAdjust", "spacingAndGlyphs").text("SELLERS");
svg.append("rect").attr("x", 0).attr("y", 964).attr("width", 122).attr("height", 15).attr("fill", "#fff");
svg.append("text").attr("x", 1).attr("y", 976).attr("font-size", 12.5).attr("fill", "#12123a").text("www.sierrachart.com");

// connection status
svg.append("rect").attr("x", 1507).attr("y", 984).attr("width", 27).attr("height", 18).attr("fill", "#00c000");
svg.append("text").attr("x", 1513).attr("y", 997).attr("font-size", 12.5).attr("fill", "#000").text("1 L");
</script>
</body>
</html>
